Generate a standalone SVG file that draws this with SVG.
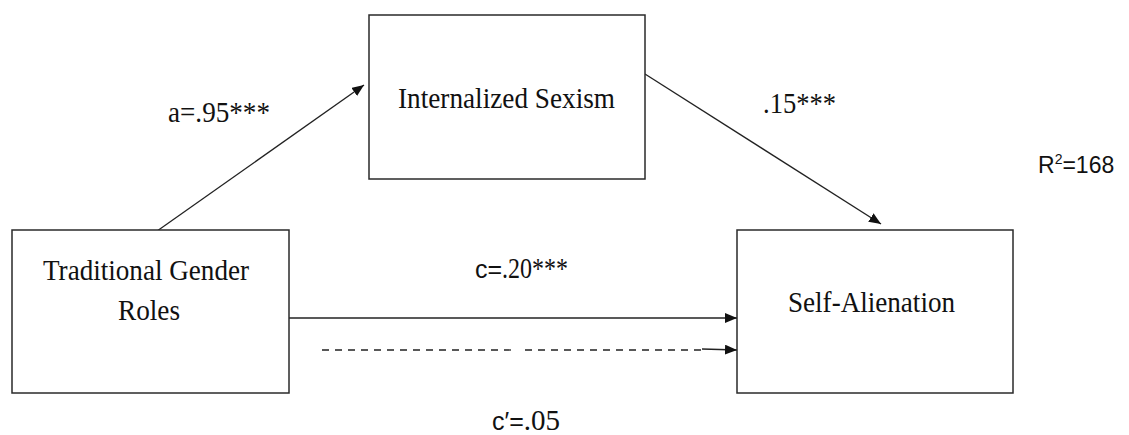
<svg xmlns="http://www.w3.org/2000/svg" width="1129" height="435" viewBox="0 0 1129 435">
<style>
.box{fill:#fff;stroke:#2a2a2a;stroke-width:1.5}
.ser{font-family:"Liberation Serif","Times New Roman",serif;fill:#111}
.sans{font-family:"Liberation Sans",Arial,sans-serif;fill:#111}
.ln{stroke:#222;stroke-width:1.3;fill:none}
</style>
<defs>
<marker id="ah" markerWidth="12" markerHeight="10" refX="12" refY="5" orient="auto" markerUnits="userSpaceOnUse">
<path d="M0,0 L12,5 L0,10 Z" fill="#111"/>
</marker>
</defs>
<rect width="1129" height="435" fill="#fff"/>
<g id="connectors">
<line class="ln" x1="150" y1="236" x2="364" y2="85" marker-end="url(#ah)"/>
<line class="ln" x1="645" y1="74" x2="881" y2="224" marker-end="url(#ah)"/>
<line class="ln" x1="289" y1="318" x2="737" y2="318" marker-end="url(#ah)"/>
<line class="ln" x1="322" y1="350" x2="511" y2="350" stroke-dasharray="7,6" stroke-width="1.7"/>
<line class="ln" x1="525" y1="350" x2="702" y2="350" stroke-dasharray="7,6" stroke-width="1.7"/>
<line class="ln" x1="702" y1="349" x2="737" y2="350" marker-end="url(#ah)"/>
</g>
<g id="node-traditional">
<rect class="box" x="12" y="230" width="277" height="163"/>
<text class="ser" x="146" y="280" font-size="30" text-anchor="middle" textLength="206" lengthAdjust="spacingAndGlyphs">Traditional Gender</text>
<text class="ser" x="149" y="320" font-size="30" text-anchor="middle" textLength="62" lengthAdjust="spacingAndGlyphs">Roles</text>
</g>
<g id="node-internalized">
<rect class="box" x="369" y="15" width="276" height="164"/>
<text class="ser" x="506.5" y="108" font-size="30" text-anchor="middle" textLength="217" lengthAdjust="spacingAndGlyphs">Internalized Sexism</text>
</g>
<g id="node-selfalienation">
<rect class="box" x="737" y="230" width="276" height="163"/>
<text class="ser" x="871.5" y="312" font-size="30" text-anchor="middle" textLength="167" lengthAdjust="spacingAndGlyphs">Self-Alienation</text>
</g>
<g id="labels">
<text x="168" y="122" font-size="29" font-family="Liberation Serif, serif" fill="#111" textLength="102" lengthAdjust="spacingAndGlyphs">a=.95***</text>
<text x="763" y="113" font-size="29" font-family="Liberation Serif, serif" fill="#111" textLength="73" lengthAdjust="spacingAndGlyphs">.15***</text>
<text class="sans" x="1038" y="173" font-size="23">R<tspan font-size="14" dy="-9">2</tspan><tspan dy="9">=168</tspan></text>
<text x="475" y="278" font-size="29" fill="#111"><tspan font-family="Liberation Sans, sans-serif" font-size="25">c=</tspan><tspan font-family="Liberation Serif, serif" textLength="66" lengthAdjust="spacingAndGlyphs">.20***</tspan></text>
<text x="492" y="430" font-size="29" fill="#111"><tspan font-family="Liberation Sans, sans-serif" font-size="25">c′=</tspan><tspan font-family="Liberation Serif, serif">.05</tspan></text>
</g>
</svg>
